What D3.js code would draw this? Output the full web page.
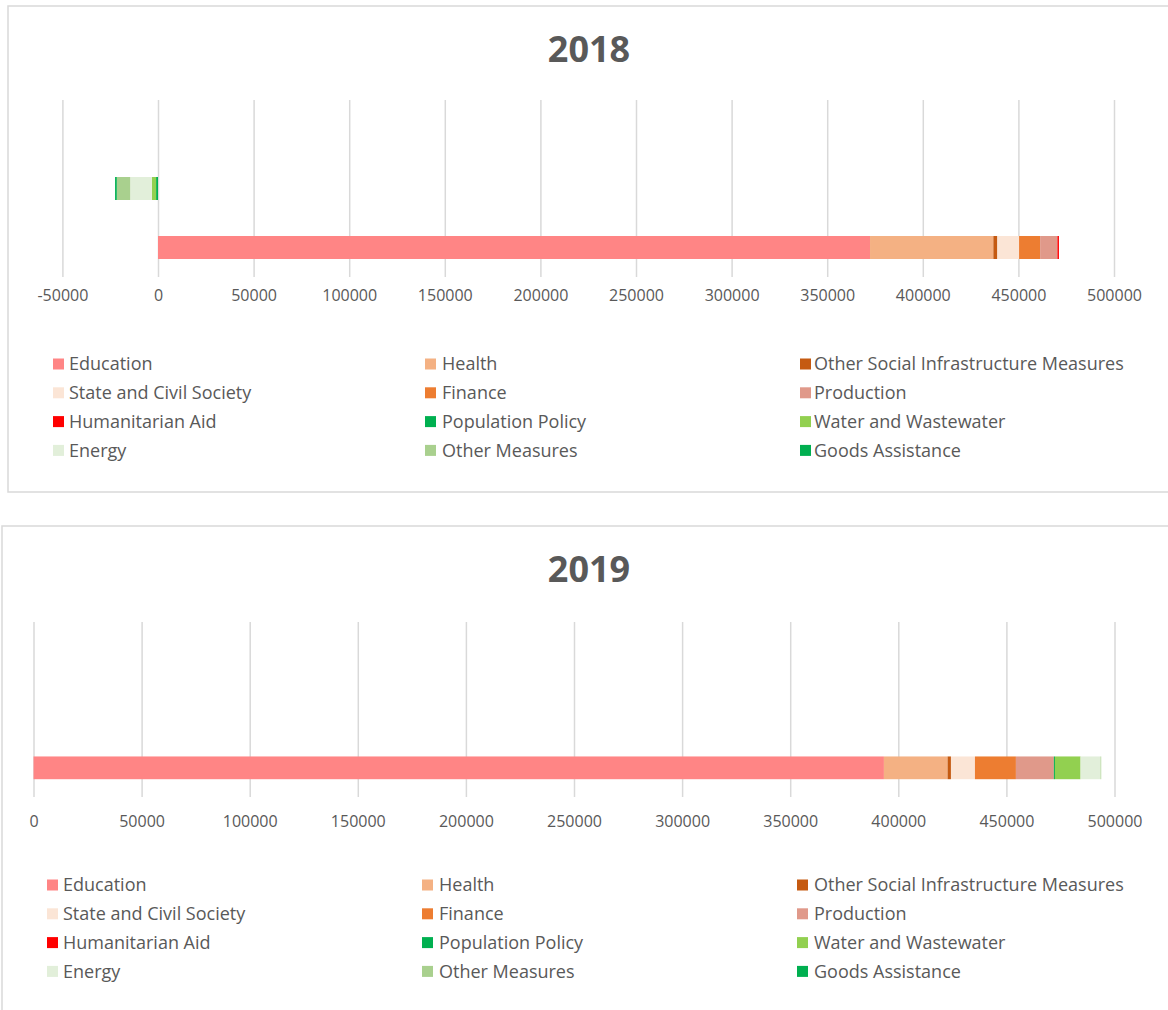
<!DOCTYPE html>
<html>
<head>
<meta charset="utf-8">
<script src="https://cdn.jsdelivr.net/npm/d3@7"></script>
<style>
  body { margin: 0; background: #ffffff; }
  svg { display: block; font-family: "Open Sans", sans-serif; }
</style>
</head>
<body>
<svg id="chart" width="1168" height="1010"></svg>
<script>
// Funding by sector, stacked horizontal bars per year (values in the same unit as the axis)
const series = [
  "Education", "Health", "Other Social Infrastructure Measures",
  "State and Civil Society", "Finance", "Production",
  "Humanitarian Aid", "Population Policy", "Water and Wastewater",
  "Energy", "Other Measures", "Goods Assistance"
];
const colors = [
  "#FF8585", "#F4B183", "#C55A11",
  "#FBE5D6", "#ED7D31", "#E0998A",
  "#FF0000", "#00B050", "#92D050",
  "#E2EFDA", "#A9D08E", "#00AF50"
];
const rowKeys = ["row1", "row2", "row3"];

// 2018: one row of repayments (negative) and one row of disbursements
const values2018Row2 = [0, 0, 0, 0, 0, 0, 0, -1000, -2250, -11300, -7000, -900];
const values2018Row3 = [372400, 64500, 2100, 11350, 11000, 9050, 800, 0, 0, 0, 0, 0];
// 2019: disbursements only
const values2019Row3 = [393350, 29450, 1550, 11100, 18950, 17550, 0, 500, 11850, 9250, 300, 0];

const ticks2018 = [-50000, 0, 50000, 100000, 150000, 200000, 250000, 300000, 350000, 400000, 450000, 500000];
const ticks2019 = [0, 50000, 100000, 150000, 200000, 250000, 300000, 350000, 400000, 450000, 500000];

function rowTable(rows) {
  // rows: { key: valuesArray } -> one object per category row
  return rowKeys.map(k => {
    const o = { key: k };
    series.forEach((s, i) => { o[s] = rows[k] ? rows[k][i] : 0; });
    return o;
  });
}

const panels = [
  {
    title: "2018",
    table: rowTable({ row2: values2018Row2, row3: values2018Row3 }),
    ticks: ticks2018,
    domain: [-50000, 500000],
    border: { x: 8, y: 6, w: 1175, h: 486 },
    titleY: 62,
    xRange: [62.4, 1114],
    yRange: [100, 277],
    tickY: 306,
    legend: { top: 364, swatchX: [53, 425, 800], textX: [69, 442, 814] }
  },
  {
    title: "2019",
    table: rowTable({ row3: values2019Row3 }),
    ticks: ticks2019,
    domain: [0, 500000],
    border: { x: 2, y: 526, w: 1180, h: 500 },
    titleY: 582,
    xRange: [33.5, 1114.5],
    yRange: [622, 797],
    tickY: 832,
    legend: { top: 885, swatchX: [47, 422, 797], textX: [63, 439, 814] }
  }
];

const svg = d3.select("#chart");
const textColor = "#595959";
const gridColor = "#D9D9D9";
// plain hyphen for negative numbers
const tickFormat = d => String(d);

const stack = d3.stack()
  .keys(series)
  .offset(d3.stackOffsetDiverging);

panels.forEach(p => {
  const g = svg.append("g");

  // panel frame
  g.append("rect")
    .attr("x", p.border.x).attr("y", p.border.y)
    .attr("width", p.border.w).attr("height", p.border.h)
    .attr("fill", "#ffffff")
    .attr("stroke", gridColor).attr("stroke-width", 1.5);

  // title
  g.append("text")
    .attr("x", 589).attr("y", p.titleY)
    .attr("text-anchor", "middle")
    .attr("font-size", 36).attr("font-weight", 700)
    .attr("fill", textColor)
    .text(p.title);

  const x = d3.scaleLinear().domain(p.domain).range(p.xRange);
  const y = d3.scaleBand().domain(rowKeys).range(p.yRange)
    .paddingInner(0.61).paddingOuter(0.305);

  // vertical gridlines
  const grid = g.append("g")
    .attr("transform", `translate(0,${p.yRange[1]})`)
    .call(d3.axisBottom(x).tickValues(p.ticks)
      .tickSize(-(p.yRange[1] - p.yRange[0])).tickFormat(""));
  grid.select(".domain").remove();
  grid.selectAll(".tick line").attr("stroke", gridColor).attr("stroke-width", 1.5);

  // tick labels
  const axis = g.append("g")
    .attr("transform", `translate(0,${p.tickY - 16})`)
    .call(d3.axisBottom(x).tickValues(p.ticks).tickSize(0).tickPadding(0)
      .tickFormat(tickFormat));
  axis.select(".domain").remove();
  axis.selectAll("text")
    .attr("font-family", "'Open Sans', sans-serif")
    .attr("font-size", 16)
    .attr("fill", textColor);

  // stacked bars
  const layers = stack(p.table);
  layers.forEach((layer, i) => {
    g.append("g").attr("fill", colors[i])
      .selectAll("rect")
      .data(layer.filter(d => d[1] !== d[0]))
      .join("rect")
      .attr("x", d => x(Math.min(d[0], d[1])))
      .attr("y", d => y(d.data.key))
      .attr("width", d => Math.abs(x(d[1]) - x(d[0])))
      .attr("height", y.bandwidth());
  });

  // legend: three columns, four rows
  const lg = g.append("g");
  series.forEach((s, i) => {
    const col = i % 3, row = Math.floor(i / 3);
    const cy = p.legend.top + row * 28.8;
    lg.append("rect")
      .attr("x", p.legend.swatchX[col]).attr("y", cy - 5.5)
      .attr("width", 11).attr("height", 11)
      .attr("fill", colors[i]);
    lg.append("text")
      .attr("x", p.legend.textX[col]).attr("y", cy)
      .attr("dy", "0.35em")
      .attr("font-size", 18)
      .attr("fill", textColor)
      .text(s);
  });
});
</script>
</body>
</html>
